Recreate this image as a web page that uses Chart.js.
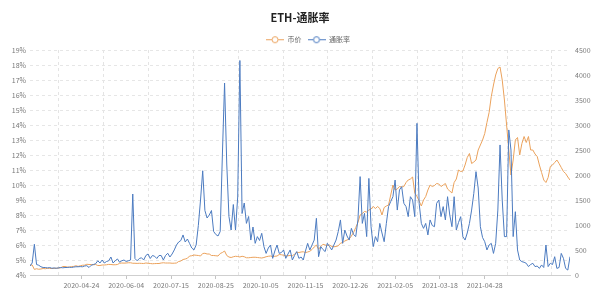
<!DOCTYPE html>
<html>
<head>
<meta charset="utf-8">
<script src="https://cdn.jsdelivr.net/npm/chart.js@4/dist/chart.umd.min.js"></script>
<style>
html,body{margin:0;padding:0;background:#fff;}
#wrap{width:600px;height:300px;}
</style>
</head>
<body>
<div id="wrap"><canvas id="c" width="600" height="300"></canvas></div>
<script>
// ---------- data ----------
const chartTitle = 'ETH-通胀率';
const seriesNames = ['币价', '通胀率'];
const startDate = '2020-03-08';   // first sample
const stepDays = 2;               // one sample every 2 days

// ETH price (right axis)
const price = [
  200,200,112,125,115,120,130,125,135,130,
  130,133,135,140,143,170,170,160,158,170,
  172,185,172,185,195,197,215,210,210,205,
  210,190,190,200,200,205,212,210,205,205,
  210,235,240,238,240,245,245,235,235,232,
  235,232,230,240,235,230,225,228,230,230,
  240,245,240,240,240,235,236,240,270,280,
  310,320,335,380,385,400,395,390,380,430,
  435,420,420,390,390,385,380,430,450,480,
  390,360,350,365,375,370,360,375,365,345,
  345,350,355,355,350,345,340,350,365,375,
  380,370,375,380,410,405,395,380,385,390,
  385,415,455,450,460,465,448,460,475,510,
  560,600,515,570,615,600,590,600,570,565,
  570,585,635,650,680,700,720,780,850,950,
  1050,1200,1230,1270,1260,1300,1320,1370,1330,1370,
  1330,1200,1350,1380,1400,1600,1800,1700,1720,1770,
  1760,1770,1850,1900,1920,1960,1640,1570,1480,1380,
  1500,1570,1700,1800,1770,1790,1830,1820,1770,1800,
  1830,1720,1680,1640,1850,1920,2100,2070,2080,2200,
  2350,2430,2230,2260,2300,2500,2600,2700,2830,3050,
  3250,3570,3800,4000,4130,4160,3900,3500,3000,2500,
  2000,2300,2700,2750,2400,2630,2770,2650,2770,2500,
  2500,2420,2370,2200,2050,1900,1850,1950,2170,2200,
  2250,2300,2230,2150,2070,2030,1960,1900
];

// inflation rate in % (left axis)
const inflation = [
  4.6,4.8,6.05,4.7,4.65,4.55,4.5,4.5,4.47,4.5,
  4.45,4.47,4.45,4.47,4.5,4.48,4.5,4.5,4.52,4.5,
  4.53,4.55,4.55,4.56,4.55,4.6,4.62,4.5,4.65,4.7,
  4.75,4.95,4.8,5.0,4.8,4.9,4.95,5.2,4.8,4.95,
  5.07,4.85,4.95,5.0,4.9,4.95,5.0,9.4,5.1,4.95,
  5.1,5.15,5.0,5.3,5.4,5.1,5.3,5.25,5.1,5.3,
  5.3,5.0,5.3,5.45,5.2,5.4,5.67,6.0,6.2,6.3,
  6.67,6.2,6.4,6.1,5.8,5.67,6.0,7.3,9.0,10.95,
  8.3,7.8,8.0,8.3,6.9,6.7,6.6,6.9,12.0,16.8,
  11.4,7.9,7.0,8.7,7.0,9.2,18.3,8.1,8.8,7.44,
  7.9,6.33,7.2,6.11,6.56,6.3,6.78,5.89,5.44,5.8,
  6.0,5.11,5.6,6.0,5.44,5.5,5.67,5.11,5.4,5.67,
  5.0,5.3,5.56,5.11,5.2,5.0,5.6,6.11,5.67,6.0,
  6.33,7.78,5.22,5.89,5.7,5.56,6.11,5.9,5.67,6.0,
  6.33,6.9,7.67,6.11,7.0,6.6,6.33,7.11,6.7,6.56,
  7.67,10.56,7.44,8.11,6.56,10.44,7.22,5.89,6.56,6.22,
  7.44,6.8,6.22,7.44,8.56,8.9,9.22,10.33,8.33,9.67,
  9.89,8.78,8.56,7.89,9.22,9.0,7.89,14.11,8.78,7.44,
  7.11,7.44,6.67,7.67,7.3,7.22,8.78,9.0,7.89,8.56,
  7.67,9.22,8.0,7.22,9.22,7.0,7.5,7.89,6.56,6.33,
  6.8,7.44,8.33,9.44,10.89,9.8,7.22,6.5,6.22,5.67,
  6.0,6.11,5.44,6.11,8.33,12.67,9.0,6.56,6.56,13.67,
  12.33,6.56,8.22,5.67,5.0,4.89,4.85,4.78,4.56,4.7,
  4.78,4.56,4.6,4.44,4.67,4.5,6.0,4.56,4.78,4.7,
  5.22,4.44,4.5,5.44,5.11,4.44,4.33,5.22
];

const tickLabels = ['2020-04-24','2020-06-04','2020-07-15','2020-08-25','2020-10-05',
                    '2020-11-15','2020-12-26','2021-02-05','2021-03-18','2021-04-28'];

const pctAxis = {min: 4, max: 19, step: 1};
const priceAxis = {min: 0, max: 4500, step: 500};

// ---------- helpers ----------
const DAY = 86400000;
function toUTC(s){ const [y,m,d] = s.split('-').map(Number); return Date.UTC(y, m-1, d); }
const t0 = toUTC(startDate);
function dayOf(s){ return Math.round((toUTC(s) - t0) / DAY); }
function fmt(t){ const d = new Date(t); return d.getUTCFullYear()+'-'+String(d.getUTCMonth()+1).padStart(2,'0')+'-'+String(d.getUTCDate()).padStart(2,'0'); }
const dates = price.map((_, i) => fmt(t0 + i * stepDays * DAY));
const lastDay = dayOf(dates[dates.length - 1]);

const labelDays = tickLabels.map(dayOf);
const labelMap = {};
tickLabels.forEach((l, i) => { labelMap[labelDays[i]] = l; });
const labelGap = labelDays[1] - labelDays[0];
const gridDays = [];
for (let d = labelDays[0] - labelGap / 2; d <= lastDay; d += labelGap) gridDays.push(d);
const allTicks = labelDays.concat(gridDays).sort((a, b) => a - b);
const isLabelTick = v => Object.prototype.hasOwnProperty.call(labelMap, v);

const FONT = '"Noto Sans CJK SC", "Noto Sans", sans-serif';
const ORANGE = '#eba25c';
const BLUE = '#4c7bc0';
const TICK_COLOR = '#7a7a7a';

function legendIcon(color){
  const c = document.createElement('canvas');
  c.width = 18; c.height = 9;
  const g = c.getContext('2d');
  g.strokeStyle = color; g.lineWidth = 1;
  g.beginPath(); g.moveTo(0, 4.5); g.lineTo(18, 4.5); g.stroke();
  g.beginPath(); g.arc(9, 4.5, 3, 0, Math.PI * 2);
  g.fillStyle = '#fff'; g.fill(); g.stroke();
  return c;
}
const icons = [legendIcon(ORANGE), legendIcon(BLUE)];

// shift the legend slightly right, as in the reference
const legendShift = {
  id: 'legendShift',
  afterLayout(chart) {
    if (chart.legend) { chart.legend.left += 8; chart.legend.right += 8; }
  }
};

new Chart(document.getElementById('c'), {
  type: 'line',
  plugins: [legendShift],
  data: {
    datasets: [
      {
        label: seriesNames[0],
        data: price.map((v, i) => ({x: dayOf(dates[i]), y: v})),
        yAxisID: 'yPrice',
        borderColor: ORANGE,
        backgroundColor: ORANGE,
        borderWidth: 1,
        pointRadius: 0,
        tension: 0,
        fill: false,
        order: 1
      },
      {
        label: seriesNames[1],
        data: inflation.map((v, i) => ({x: dayOf(dates[i]), y: v})),
        yAxisID: 'yPct',
        borderColor: BLUE,
        backgroundColor: BLUE,
        borderWidth: 1,
        pointRadius: 0,
        tension: 0,
        fill: false,
        order: 0
      }
    ]
  },
  options: {
    responsive: false,
    animation: false,
    devicePixelRatio: 1,
    layout: {padding: 0},
    plugins: {
      title: {
        display: true,
        text: chartTitle,
        color: '#222',
        font: {size: 11, weight: 'bold', family: FONT},
        padding: {top: 11, bottom: 6}
      },
      legend: {
        display: true,
        maxHeight: 19.8,
        labels: {
          usePointStyle: true,
          pointStyleWidth: 18,
          padding: 6,
          color: '#666',
          font: {size: 7, family: FONT},
          generateLabels: chart => chart.data.datasets.map((ds, i) => ({
            text: ds.label,
            pointStyle: icons[i],
            fillStyle: '#fff',
            strokeStyle: ds.borderColor,
            lineWidth: 1,
            fontColor: '#666',
            hidden: !chart.isDatasetVisible(i),
            datasetIndex: i
          }))
        }
      },
      tooltip: {enabled: false}
    },
    scales: {
      x: {
        type: 'linear',
        min: 0,
        max: lastDay,
        afterBuildTicks: s => { s.ticks = allTicks.map(v => ({value: v})); },
        afterFit: s => { s.height = 25; },
        ticks: {
          autoSkip: false,
          maxRotation: 0,
          padding: 2,
          color: TICK_COLOR,
          font: {size: 7, family: FONT},
          callback: v => labelMap[v] !== undefined ? labelMap[v] : ''
        },
        grid: {
          color: ctx => (ctx.tick && !isLabelTick(ctx.tick.value)) ? '#e4e4e4' : 'rgba(0,0,0,0)',
          tickColor: ctx => (ctx.tick && isLabelTick(ctx.tick.value)) ? '#c4c4c4' : 'rgba(0,0,0,0)',
          tickLength: 4,
          lineWidth: 1
        },
        border: {display: true, color: '#cfcfcf', width: 1, dash: [3, 3]}
      },
      yPct: {
        type: 'linear',
        position: 'left',
        min: pctAxis.min,
        max: pctAxis.max,
        afterFit: s => { s.width = 30; },
        ticks: {
          stepSize: pctAxis.step,
          padding: 4,
          color: TICK_COLOR,
          font: {size: 7, family: FONT},
          callback: v => v + '%'
        },
        grid: {color: '#e6e6e6', drawTicks: false, lineWidth: 1},
        border: {display: false, dash: [3, 3]}
      },
      yPrice: {
        type: 'linear',
        position: 'right',
        min: priceAxis.min,
        max: priceAxis.max,
        afterFit: s => { s.width = 30; },
        ticks: {
          stepSize: priceAxis.step,
          padding: 5,
          color: TICK_COLOR,
          font: {size: 7, family: FONT},
          callback: v => String(v)
        },
        grid: {display: false, drawTicks: false},
        border: {display: false}
      }
    }
  }
});
</script>
</body>
</html>
